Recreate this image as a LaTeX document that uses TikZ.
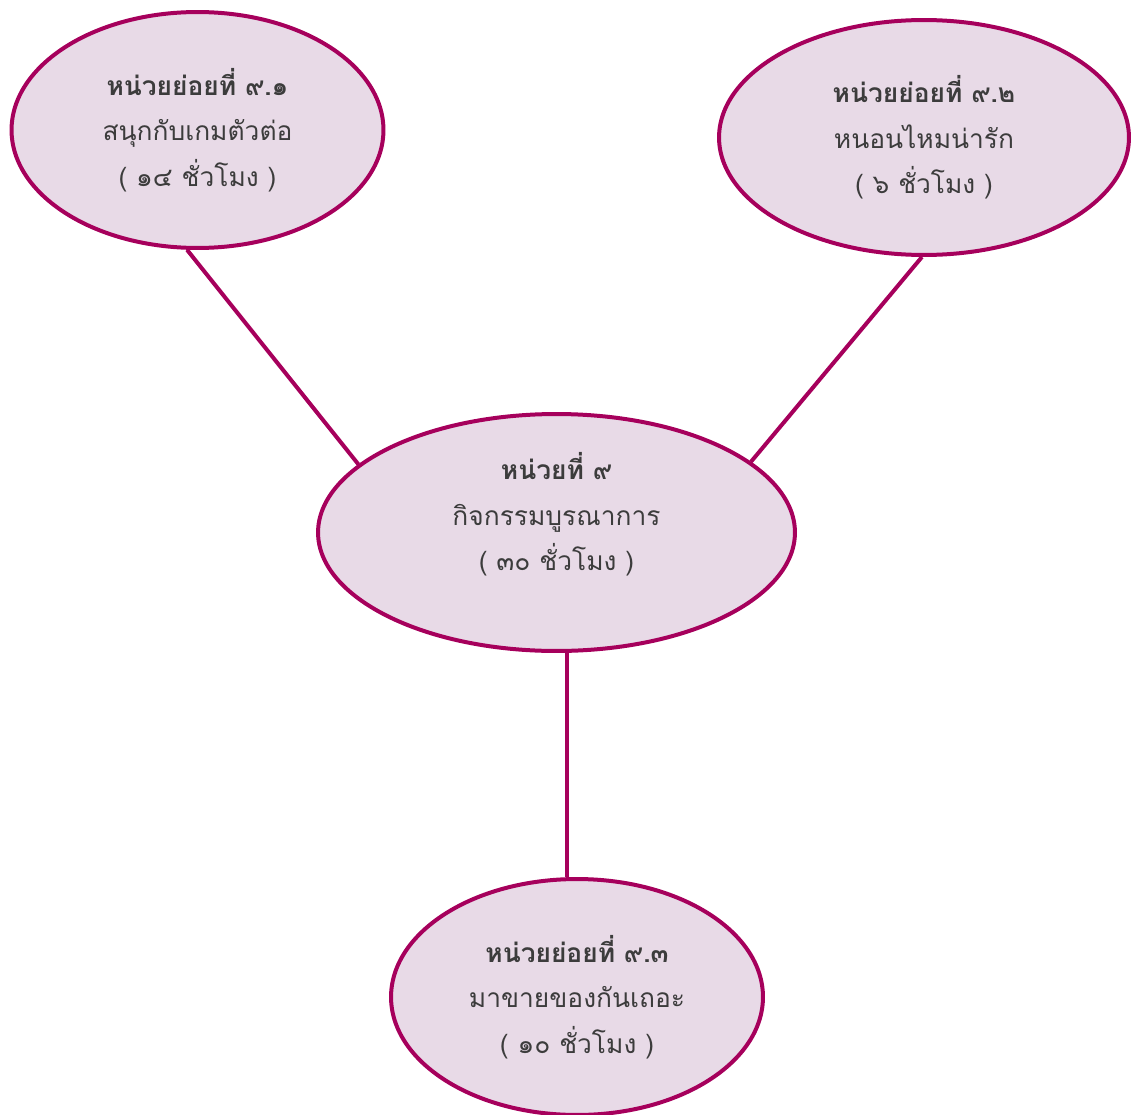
\documentclass[tikz,border=0pt]{standalone}
\usepackage{fontspec}
\setmainfont[Script=Thai]{Loma}
\usetikzlibrary{shapes.geometric}
\definecolor{plum}{HTML}{A6005C}
\definecolor{lilac}{HTML}{E8DAE7}
\definecolor{ink}{HTML}{3C3C3C}
\begin{document}
\begin{tikzpicture}
[x=0.02cm, y=-0.02cm,
sub/.style ={ellipse, draw=plum, line width=0.08cm, fill=lilac, inner sep=0pt, align=center, text=ink, font=\fontsize{15}{26}\selectfont, minimum width=7.44cm, minimum height=4.72cm},
wide/.style ={sub, minimum width=8.2cm, minimum height=4.7cm},
main/.style ={sub, minimum width=9.54cm, minimum height=4.74cm, text depth=0.84cm},
line/.style ={draw=plum, line width=0.08cm}]
\useasboundingbox (0, 0) rectangle (1132, 1115);
\draw (197.5, 130) node[sub] (s1) {\textbf{หน่วยย่อยที่ ๙.๑}\\สนุกกับเกมตัวต่อ\\( ๑๔ ชั่วโมง )};
\draw (924, 137.5) node[wide] (s2) {\textbf{หน่วยย่อยที่ ๙.๒}\\หนอนไหมน่ารัก\\( ๖ ชั่วโมง )};
\draw (556.5, 532.5) node[main] (u9) {\textbf{หน่วยที่ ๙}\\กิจกรรมบูรณาการ\\( ๓๐ ชั่วโมง )};
\draw (577, 997) node[sub] (s3) {\textbf{หน่วยย่อยที่ ๙.๓}\\มาขายของกันเถอะ\\( ๑๐ ชั่วโมง )};
\draw[line] (s1.265) -- (u9.161);
\draw[line] (s2.269) -- (u9.20);
\draw[line] (u9.-85.5) -- (u9.-85.5 |- s3.north);
\end{tikzpicture}
\end{document}
